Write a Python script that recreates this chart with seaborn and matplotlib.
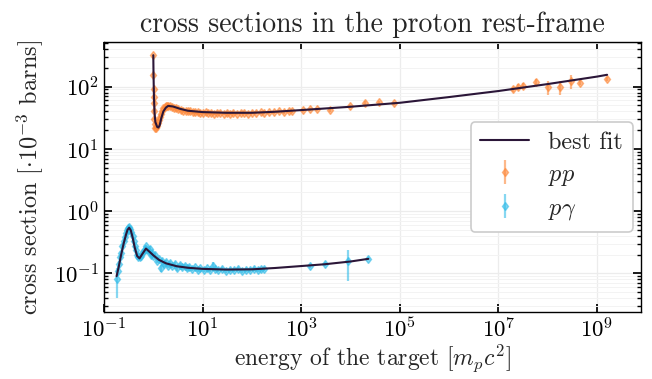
import numpy as np
import pandas as pd
import seaborn as sns
import matplotlib
matplotlib.use("Agg")
import matplotlib.pyplot as plt

# best-fit curves
fit_pp_x = [1.0, 1.01, 1.03, 1.06, 1.1, 1.2, 1.27, 1.35, 1.45, 1.6, 1.8, 2.0, 2.5, 3.5, 5, 10,
            30, 100, 300, 1e3, 1e4, 1e5, 1e6, 1e7, 1e8, 1e9, 1.6e9]
fit_pp_y = [320, 160, 70, 38, 27, 22.5, 22, 24, 31, 40, 46, 49, 48, 44, 41, 39,
            38, 38, 39.5, 42, 47.5, 55, 68, 85, 110, 145, 155]

fit_pg_x = [0.18, 0.2, 0.22, 0.25, 0.28, 0.3, 0.324, 0.35, 0.38, 0.42, 0.47, 0.525, 0.6, 0.71,
            0.85, 1.0, 1.3, 1.8, 3, 5, 10, 30, 100, 300, 1e3, 3e3, 1e4, 2.3e4]
fit_pg_y = [0.09, 0.13, 0.19, 0.3, 0.42, 0.5, 0.54, 0.49, 0.38, 0.26, 0.19, 0.174, 0.205, 0.25,
            0.22, 0.195, 0.165, 0.145, 0.13, 0.123, 0.118, 0.115, 0.116, 0.122, 0.131, 0.14, 0.155, 0.171]

# pp data
pp_x = [1.0, 1.005, 1.01, 1.015, 1.02, 1.03, 1.04, 1.06, 1.1, 1.15,
        1.2, 1.25, 1.3, 1.35, 1.4, 1.5, 1.6, 1.7, 1.8, 1.9,
        2.0, 2.2, 2.4, 2.6, 2.9, 3.2, 3.6, 4.0, 4.5, 5.0,
        5.6, 6.3, 7.1, 8.0, 9.0, 10, 11.5, 13, 15, 17,
        20, 23, 27, 31, 36, 42, 50, 60, 70, 85,
        100, 120, 150, 180, 220, 280, 350, 450, 560, 660,
        1070, 1480, 2080, 3900, 9800, 2.0e4, 3.8e4, 7.8e4, 2.0e7, 2.5e7,
        3.2e7, 5.7e7, 1e8, 1.75e8, 3e8, 4.6e8, 1.6e9]
pp_y = [319, 156, 91, 68, 54, 40, 30, 25, 22, 22,
        23, 26, 29, 33, 37, 41, 45, 47, 48, 49,
        49, 48, 47, 46, 45, 44, 42, 41, 41, 40,
        40, 39, 39, 39, 38, 38, 39, 38, 38, 37,
        38, 38, 37, 38, 37, 38, 37, 38, 38, 37,
        38, 38, 39, 38, 39, 39, 40, 39, 40, 40,
        42, 43, 43, 42, 48, 55, 56, 54, 91, 99,
        103, 119, 99, 99, 123, 116, 132]
pp_err = [8, 5, 3, 2.5, 2, 1.5, 1.2, 1, 1, 1,
          1, 1.2, 1.3, 1.5, 1.6, 1.8, 2, 2, 2, 2,
          2, 2, 2, 2, 2, 2, 2, 2, 2, 2,
          2, 2, 2, 2, 2, 2, 2, 2, 2, 2,
          2, 2, 2, 2, 2, 2, 2, 2, 2, 2,
          2, 2, 2, 2, 2, 2, 2, 2, 2, 2,
          2.5, 2.5, 2.5, 2.5, 3, 3.5, 3.5, 3.5, 9, 10,
          10, 15, 25, 25, 30, 10, 10]

# p-gamma data
pg_x = [0.18, 0.19, 0.2, 0.21, 0.22, 0.235, 0.25, 0.265, 0.28, 0.295,
        0.31, 0.325, 0.34, 0.36, 0.38, 0.40, 0.42, 0.44, 0.47, 0.5,
        0.53, 0.56, 0.6, 0.64, 0.68, 0.72, 0.76, 0.8, 0.85, 0.9,
        0.95, 1.0, 1.1, 1.2, 1.3, 1.4, 1.5, 1.65, 1.8, 2.0,
        2.2, 2.4, 2.7, 3.0, 3.4, 3.8, 4.3, 4.8, 5.4, 6.0,
        7.0, 8.0, 9.0, 10.5, 12, 14, 16, 18, 21, 25,
        30, 36, 43, 52, 62, 75, 90, 110, 130, 155,
        180, 1500, 3000, 9000, 2.3e4]
pg_y = [0.08, 0.11, 0.14, 0.18, 0.21, 0.27, 0.33, 0.38, 0.44, 0.5,
        0.53, 0.55, 0.52, 0.46, 0.40, 0.33, 0.28, 0.24, 0.2, 0.18,
        0.18, 0.19, 0.21, 0.23, 0.25, 0.27, 0.24, 0.23, 0.25, 0.2,
        0.21, 0.19, 0.2, 0.16, 0.17, 0.12, 0.16, 0.14, 0.15, 0.13,
        0.145, 0.13, 0.14, 0.12, 0.135, 0.125, 0.13, 0.12, 0.125, 0.118,
        0.125, 0.115, 0.12, 0.113, 0.12, 0.112, 0.13, 0.116, 0.112, 0.118,
        0.11, 0.115, 0.112, 0.117, 0.111, 0.115, 0.113, 0.117, 0.112, 0.116,
        0.118, 0.13, 0.14, 0.155, 0.172]
pg_err = [0.04, 0.02, 0.02, 0.02, 0.02, 0.025, 0.03, 0.03, 0.03, 0.03,
          0.03, 0.03, 0.03, 0.03, 0.03, 0.025, 0.02, 0.02, 0.015, 0.015,
          0.015, 0.015, 0.02, 0.02, 0.02, 0.02, 0.02, 0.02, 0.02, 0.02,
          0.02, 0.015, 0.015, 0.015, 0.015, 0.015, 0.012, 0.012, 0.012, 0.01,
          0.01, 0.01, 0.01, 0.01, 0.01, 0.01, 0.01, 0.01, 0.01, 0.008,
          0.008, 0.008, 0.008, 0.008, 0.008, 0.008, 0.02, 0.008, 0.008, 0.008,
          0.008, 0.008, 0.008, 0.008, 0.008, 0.008, 0.008, 0.008, 0.008, 0.008,
          0.008, 0.008, 0.01, 0.08, 0.01]

fit_color = "#2b1638"
pp_color = "#fd8a3c"
pg_color = "#35bde9"

sns.set_theme(style="ticks")
plt.rcParams.update({
    "font.family": "serif",
    "font.serif": ["cmr10", "DejaVu Serif"],
    "mathtext.fontset": "cm",
    "axes.formatter.use_mathtext": True,
    "axes.unicode_minus": False,
    "axes.edgecolor": "black",
    "axes.linewidth": 1.0,
    "xtick.direction": "in",
    "ytick.direction": "in",
    "xtick.top": True,
    "ytick.right": True,
    "xtick.minor.visible": True,
    "ytick.minor.visible": True,
    "xtick.major.size": 6,
    "ytick.major.size": 6,
    "xtick.minor.size": 3,
    "ytick.minor.size": 3,
    "xtick.color": "black",
    "ytick.color": "black",
})

fig = plt.figure(figsize=(6.52, 3.79), dpi=100)
ax = fig.add_axes([0.1595, 0.177, 0.8235, 0.712])

fit_pp = pd.DataFrame({"x": fit_pp_x, "y": fit_pp_y})
fit_pg = pd.DataFrame({"x": fit_pg_x, "y": fit_pg_y})
sns.lineplot(data=fit_pp, x="x", y="y", ax=ax, color=fit_color, lw=1.5, label="best fit", zorder=5)
sns.lineplot(data=fit_pg, x="x", y="y", ax=ax, color=fit_color, lw=1.5, zorder=5)

ax.errorbar(pp_x, pp_y, yerr=pp_err, fmt="d", ms=4.5, color=pp_color, alpha=0.6,
            elinewidth=1.6, label="$pp$", zorder=3)
ax.errorbar(pg_x, pg_y, yerr=pg_err, fmt="d", ms=4.5, color=pg_color, alpha=0.6,
            elinewidth=1.6, label=r"$p\gamma$", zorder=3)

ax.set_xscale("log")
ax.set_yscale("log")
ax.set_xlim(0.1, 10**9.89)
ax.set_ylim(0.024, 520)
ax.set_xticks([1e-1, 1e1, 1e3, 1e5, 1e7, 1e9])

ax.grid(which="major", color="#ececec", lw=0.9)
ax.yaxis.grid(which="minor", color="#f3f3f3", lw=0.7)
ax.set_axisbelow(True)

ax.tick_params(labelsize=16.5)
ax.set_title("cross sections in the proton rest-frame", fontsize=20, pad=7)
ax.set_xlabel(r"energy of the target $[m_pc^2]$", fontsize=17, labelpad=1)
ax.set_ylabel(r"cross section $[\cdot 10^{-3}$ barns$]$", fontsize=17.5, labelpad=6)

leg = ax.legend(loc="upper right", bbox_to_anchor=(0.985, 0.704), borderaxespad=0,
                fontsize=17.5, frameon=True, fancybox=True, edgecolor="#cccccc",
                framealpha=1.0, borderpad=0.4, labelspacing=0.4, handletextpad=0.8)
leg.get_frame().set_linewidth(1.2)

fig.savefig("out.png", dpi=100)
